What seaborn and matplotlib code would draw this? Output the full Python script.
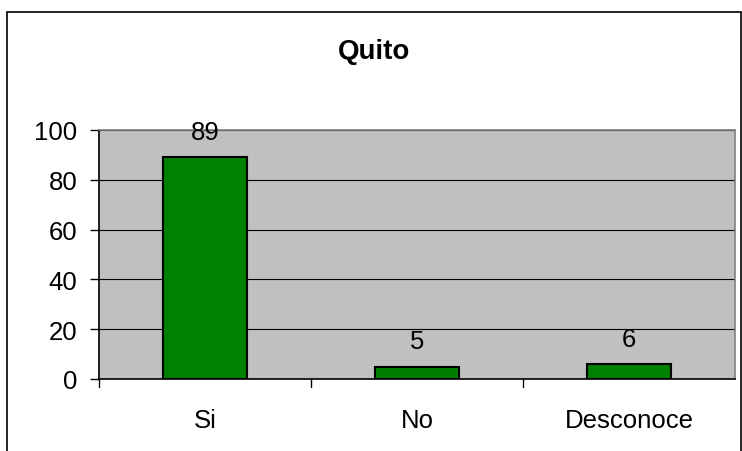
import numpy as np
import pandas as pd
import matplotlib.pyplot as plt
import seaborn as sns
from matplotlib.patches import Rectangle

sns.set_style("white")
plt.rcParams['font.family'] = ['Liberation Sans', 'DejaVu Sans']
plt.rcParams['text.color'] = 'black'
plt.rcParams['xtick.color'] = 'black'
plt.rcParams['ytick.color'] = 'black'
plt.rcParams['axes.labelcolor'] = 'black'

categories = ['Si', 'No', 'Desconoce']
values = [89, 5, 6]
yticks = [0, 20, 40, 60, 80, 100]

df = pd.DataFrame({'cat': categories, 'val': values})

fig = plt.figure(figsize=(7.42, 4.52), dpi=100)
ax = fig.add_axes([99 / 742, 1 - 380 / 452, 636 / 742, 249 / 452])

sns.barplot(data=df, x='cat', y='val', color='#008000', width=0.4,
            edgecolor='black', linewidth=1.5, saturation=1, ax=ax, zorder=3)

ax.set_facecolor('#C0C0C0')
ax.set_ylim(0, 100)
ax.set_xlim(-0.5, 2.5)
ax.set_yticks(yticks)
ax.set_yticklabels([str(t) for t in yticks], fontsize=18.5)
ax.yaxis.grid(True, color='black', linewidth=0.8)
ax.set_axisbelow(True)
for s in ax.spines.values():
    s.set_color('#808080')
    s.set_linewidth(1.2)
ax.spines['left'].set_color('black')
ax.spines['bottom'].set_color('black')
ax.set_xlabel('')
ax.set_ylabel('')

# x labels centered, ticks between categories
ax.set_xticks([0, 1, 2])
ax.set_xticklabels(categories, fontsize=18.5)
ax.tick_params(axis='x', length=0, pad=21)
ax.tick_params(axis='y', length=6.5, width=1, color='black', direction='out', left=True, pad=9)
for xb in [0.5, 1.5]:
    ax.plot([xb, xb], [0, -3.2], color='black', lw=1, clip_on=False)
ax.plot([-0.5, -0.5], [0, -3.2], color='black', lw=1, clip_on=False)

for i, v in enumerate(values):
    ax.annotate(str(v), (i, v), xytext=(0, 9.5), textcoords='offset points',
                ha='center', va='bottom', fontsize=18.5)

fig.text(0.5 + 3 / 742, 1 - 52 / 452, 'Quito', ha='center', va='center',
         fontsize=20, fontweight='bold')

# outer chart border
fig.patches.append(Rectangle((7 / 742, -0.01), 734 / 742, 1 - 13 / 452 + 0.01,
                             transform=fig.transFigure, fill=False,
                             edgecolor='black', linewidth=1.2))

fig.savefig('out.png', dpi=100)
